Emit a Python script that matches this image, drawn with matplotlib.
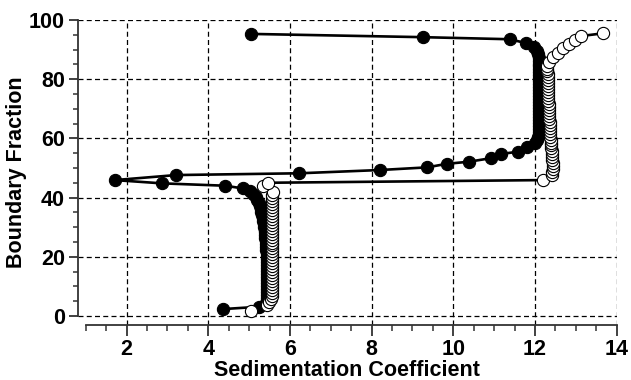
import matplotlib
matplotlib.use("Agg")
import matplotlib.pyplot as plt
from matplotlib.ticker import MultipleLocator

# Black (filled) series: sedimentation coefficient vs boundary fraction
black_s = [4.35, 5.25,
           5.42, 5.43, 5.43, 5.44, 5.44, 5.44, 5.44, 5.44, 5.44, 5.44, 5.44, 5.44, 5.44,
           5.43, 5.43, 5.43, 5.43, 5.43, 5.42, 5.42, 5.41, 5.41, 5.40, 5.40, 5.39, 5.38,
           5.37, 5.36, 5.35, 5.34, 5.32, 5.30, 5.28, 5.26, 5.23, 5.20, 5.16, 5.10, 5.02,
           4.84, 4.41, 2.86, 1.71, 3.21, 6.23, 8.20, 9.36, 9.84, 10.38, 10.92, 11.16,
           11.59, 11.80, 12.00,
           12.06, 12.08, 12.09, 12.10, 12.10, 12.10, 12.10, 12.10, 12.10, 12.10, 12.10,
           12.10, 12.10, 12.10, 12.10, 12.10, 12.10, 12.10, 12.10, 12.10, 12.10, 12.10,
           12.10, 12.10, 12.10, 12.10, 12.10, 12.10, 12.10,
           12.08, 12.05, 11.97, 11.78, 11.38, 9.25, 5.04]
black_f = [2.3, 3.1,
           4.2, 5.2, 6.2, 7.2, 8.2, 9.2, 10.2, 11.2, 12.2, 13.2, 14.2, 15.2, 16.2,
           17.2, 18.2, 19.2, 20.2, 21.2, 22.2, 23.2, 24.2, 25.2, 26.2, 27.2, 28.2, 29.2,
           30.2, 31.2, 32.2, 33.2, 34.2, 35.2, 36.2, 37.2, 38.2, 39.2, 40.2, 41.2, 42.1,
           43.1, 44.0, 44.8, 45.9, 47.6, 48.2, 49.3, 50.2, 51.4, 52.1, 53.3, 54.7,
           55.5, 57.2, 58.3,
           59.3, 60.3, 61.3, 62.3, 63.3, 64.3, 65.3, 66.3, 67.3, 68.3, 69.3,
           70.3, 71.3, 72.3, 73.3, 74.3, 75.3, 76.3, 77.3, 78.3, 79.3, 80.3,
           81.3, 82.3, 83.3, 84.3, 85.3, 86.3, 87.3,
           88.5, 89.6, 91.0, 92.2, 93.5, 94.2, 95.3]

# White (open) series
white_s = [5.04, 5.43, 5.49,
           5.53, 5.55, 5.56, 5.56, 5.57, 5.57, 5.57, 5.57, 5.57, 5.57, 5.57, 5.57,
           5.57, 5.57, 5.57, 5.57, 5.57, 5.57, 5.57, 5.57, 5.57, 5.57, 5.57, 5.57,
           5.57, 5.57, 5.57, 5.57, 5.57, 5.57, 5.57, 5.57, 5.57, 5.57, 5.57,
           5.57, 5.59, 5.35, 5.47,
           12.20,
           12.41, 12.42, 12.43, 12.43, 12.43, 12.42, 12.42, 12.41, 12.41, 12.40, 12.40,
           12.39, 12.39, 12.38, 12.38, 12.37, 12.37, 12.36, 12.36, 12.35, 12.35, 12.35,
           12.34, 12.34, 12.34, 12.33, 12.33, 12.33, 12.32, 12.32, 12.32, 12.31, 12.31,
           12.31, 12.31, 12.30, 12.30, 12.30,
           12.35, 12.45, 12.57, 12.69, 12.84, 12.98, 13.14, 13.67]
white_f = [1.8, 3.7, 4.8,
           5.8, 6.8, 7.8, 8.8, 9.8, 10.8, 11.8, 12.8, 13.8, 14.8, 15.8, 16.8,
           17.8, 18.8, 19.8, 20.8, 21.8, 22.8, 23.8, 24.8, 25.8, 26.8, 27.8, 28.8,
           29.8, 30.8, 31.8, 32.8, 33.8, 34.8, 35.8, 36.8, 37.8, 38.8, 39.8,
           40.8, 42.0, 43.9, 45.0,
           45.9,
           47.6, 48.6, 49.6, 50.6, 51.6, 52.6, 53.6, 54.6, 55.6, 56.6, 57.6,
           58.6, 59.6, 60.6, 61.6, 62.6, 63.6, 64.6, 65.6, 66.6, 67.6, 68.6,
           69.6, 70.6, 71.6, 72.6, 73.6, 74.6, 75.6, 76.6, 77.6, 78.6, 79.6,
           80.6, 81.6, 82.6, 83.6, 84.6,
           85.9, 87.6, 89.0, 90.4, 91.9, 93.2, 94.6, 95.5]

x_ticks = [2, 4, 6, 8, 10, 12, 14]
y_ticks = [0, 20, 40, 60, 80, 100]

plt.rcParams['font.family'] = ['Liberation Sans', 'DejaVu Sans']
plt.rcParams['font.weight'] = 'bold'

fig = plt.figure(figsize=(6.31, 3.80), dpi=100)
ax = fig.add_axes([78 / 631, 1 - 324.5 / 380, (616.6 - 78) / 631, (324.5 - 20) / 380])

ax.plot(black_s, black_f, color='black', lw=1.9, marker='o', ms=8.8,
        mfc='black', mec='black', mew=0.8, zorder=3, clip_on=False)
ax.plot(white_s, white_f, color='black', lw=1.9, marker='o', ms=8.8,
        mfc='white', mec='black', mew=0.8, zorder=4, clip_on=False)

ax.set_xlim(0.808, 14.0)
ax.set_ylim(-2.9, 100)

ax.set_xticks(x_ticks)
ax.set_yticks(y_ticks)
ax.set_xticklabels([str(v) for v in x_ticks], fontweight='bold', fontsize=15.5)
ax.set_yticklabels([str(v) for v in y_ticks], fontweight='bold', fontsize=15.5)
ax.xaxis.set_minor_locator(MultipleLocator(0.5))
ax.yaxis.set_minor_locator(MultipleLocator(5))

ax.grid(True, which='major', color='black', lw=0.9, linestyle=(0, (4, 2.6)), zorder=1)
ax.set_axisbelow(True)

for side in ['top', 'right']:
    ax.spines[side].set_visible(False)
ax.spines['left'].set_bounds(0, 100)
ax.spines['bottom'].set_bounds(1, 14)
for side in ['left', 'bottom']:
    ax.spines[side].set_color('#333333')
    ax.spines[side].set_linewidth(1.3)

ax.tick_params(axis='x', which='major', direction='out', length=7.7, width=1.3,
               color='#333333', pad=2.5)
ax.tick_params(axis='x', which='minor', direction='out', length=4.4, width=1.1,
               color='#333333')
ax.tick_params(axis='y', which='major', direction='out', length=6.5, width=1.3,
               color='#333333', pad=3)
ax.tick_params(axis='y', which='minor', direction='out', length=3.4, width=1.1,
               color='#333333')

ax.set_xlabel('Sedimentation Coefficient', fontsize=15.5, fontweight='bold', labelpad=0)
ax.set_ylabel('Boundary Fraction', fontsize=15.5, fontweight='bold', labelpad=1)

fig.savefig('out.png', dpi=100)
